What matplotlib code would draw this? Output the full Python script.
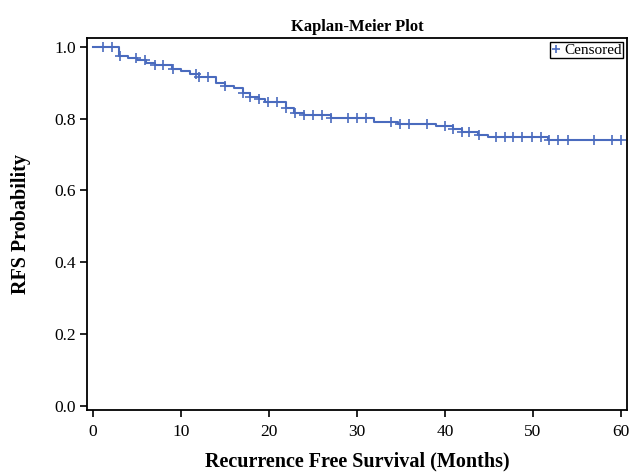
import numpy as np
import matplotlib
matplotlib.use("Agg")
import matplotlib.pyplot as plt
from matplotlib.lines import Line2D

# Step function of the Kaplan-Meier estimate: event times and survival after each drop
event_times = [0, 3.0, 4.0, 5.0, 6.0, 7.0, 9.0, 10.0, 11.0, 12.0, 14.0, 15.0, 16.0,
               17.0, 17.8, 18.9, 19.5, 21.9, 22.9, 24.0, 27.0, 32.0, 34.7, 39.0,
               40.9, 41.9, 43.8, 44.9, 51.7]
survival = [1.0, 0.975, 0.970, 0.962, 0.955, 0.950, 0.938, 0.934, 0.925, 0.917, 0.900,
            0.892, 0.885, 0.871, 0.861, 0.854, 0.846, 0.829, 0.815, 0.810, 0.801,
            0.790, 0.784, 0.779, 0.770, 0.762, 0.755, 0.748, 0.741]
end_time = 60.0

# Censored observation times
censor_times = [1.1, 2.1, 3.1, 4.9, 5.9, 7.0, 8.0, 9.1, 11.7, 12.1, 13.1, 15.0, 17.0,
                17.9, 18.9, 19.9, 20.9, 21.9, 23.0, 24.0, 25.0, 26.0, 27.0, 29.0,
                30.0, 31.0, 33.9, 34.9, 35.9, 38.0, 40.0, 40.9, 41.9, 42.8, 43.9,
                45.8, 46.8, 47.8, 48.8, 49.9, 50.9, 51.8, 52.9, 54.0, 57.0, 59.0, 60.0]

title = "Kaplan-Meier Plot"
xlabel = "Recurrence Free Survival (Months)"
ylabel = "RFS Probability"
xticks = [0, 10, 20, 30, 40, 50, 60]
yticks = [0.0, 0.2, 0.4, 0.6, 0.8, 1.0]

color = "#4A6BBE"
plt.rcParams['font.family'] = ['Liberation Serif', 'DejaVu Serif']

fig = plt.figure(figsize=(6.3, 4.73), dpi=100)
ax = fig.add_axes([0.138, 0.133, 0.857, 0.787])

t = np.array(event_times + [end_time])
s = np.array(survival + [survival[-1]])
ax.step(t, s, where='post', color=color, lw=1.5, zorder=3)

ct = np.array(censor_times)
idx = np.searchsorted(np.array(event_times), ct, side='right') - 1
cs = np.array(survival)[idx]
ax.plot(ct, cs, linestyle='none', marker='+', markersize=6.5, mew=1.2, color=color, zorder=4)

ax.set_xlim(-0.7, 60.7)
ax.set_ylim(-0.012, 1.025)
ax.set_xticks(xticks)
ax.set_xticklabels([str(v) for v in xticks])
ax.set_yticks(yticks)
ax.set_yticklabels([f"{v:.1f}" for v in yticks])
ax.tick_params(direction='out', length=5, width=1.2, labelsize=12.5, colors='black')
ax.tick_params(axis='x', pad=5)
ax.tick_params(axis='y', pad=3)
for sp in ax.spines.values():
    sp.set_linewidth(1.3)
    sp.set_color('black')

ax.set_title(title, fontsize=12, fontweight='bold', pad=5)
ax.set_xlabel(xlabel, fontsize=14.5, fontweight='bold', labelpad=8)
ax.set_ylabel(ylabel, fontsize=14.5, fontweight='bold', labelpad=17)

handle = Line2D([], [], linestyle='none', marker='+', markersize=6, mew=1.2, color=color)
leg = ax.legend([handle], ["Censored"], loc='upper right', fontsize=11,
                frameon=True, fancybox=False, edgecolor='black', handlelength=0.6,
                handletextpad=0.2, borderpad=0.1, borderaxespad=0.25, framealpha=1)
leg.get_frame().set_linewidth(1.0)

fig.savefig("out.png", dpi=100)
